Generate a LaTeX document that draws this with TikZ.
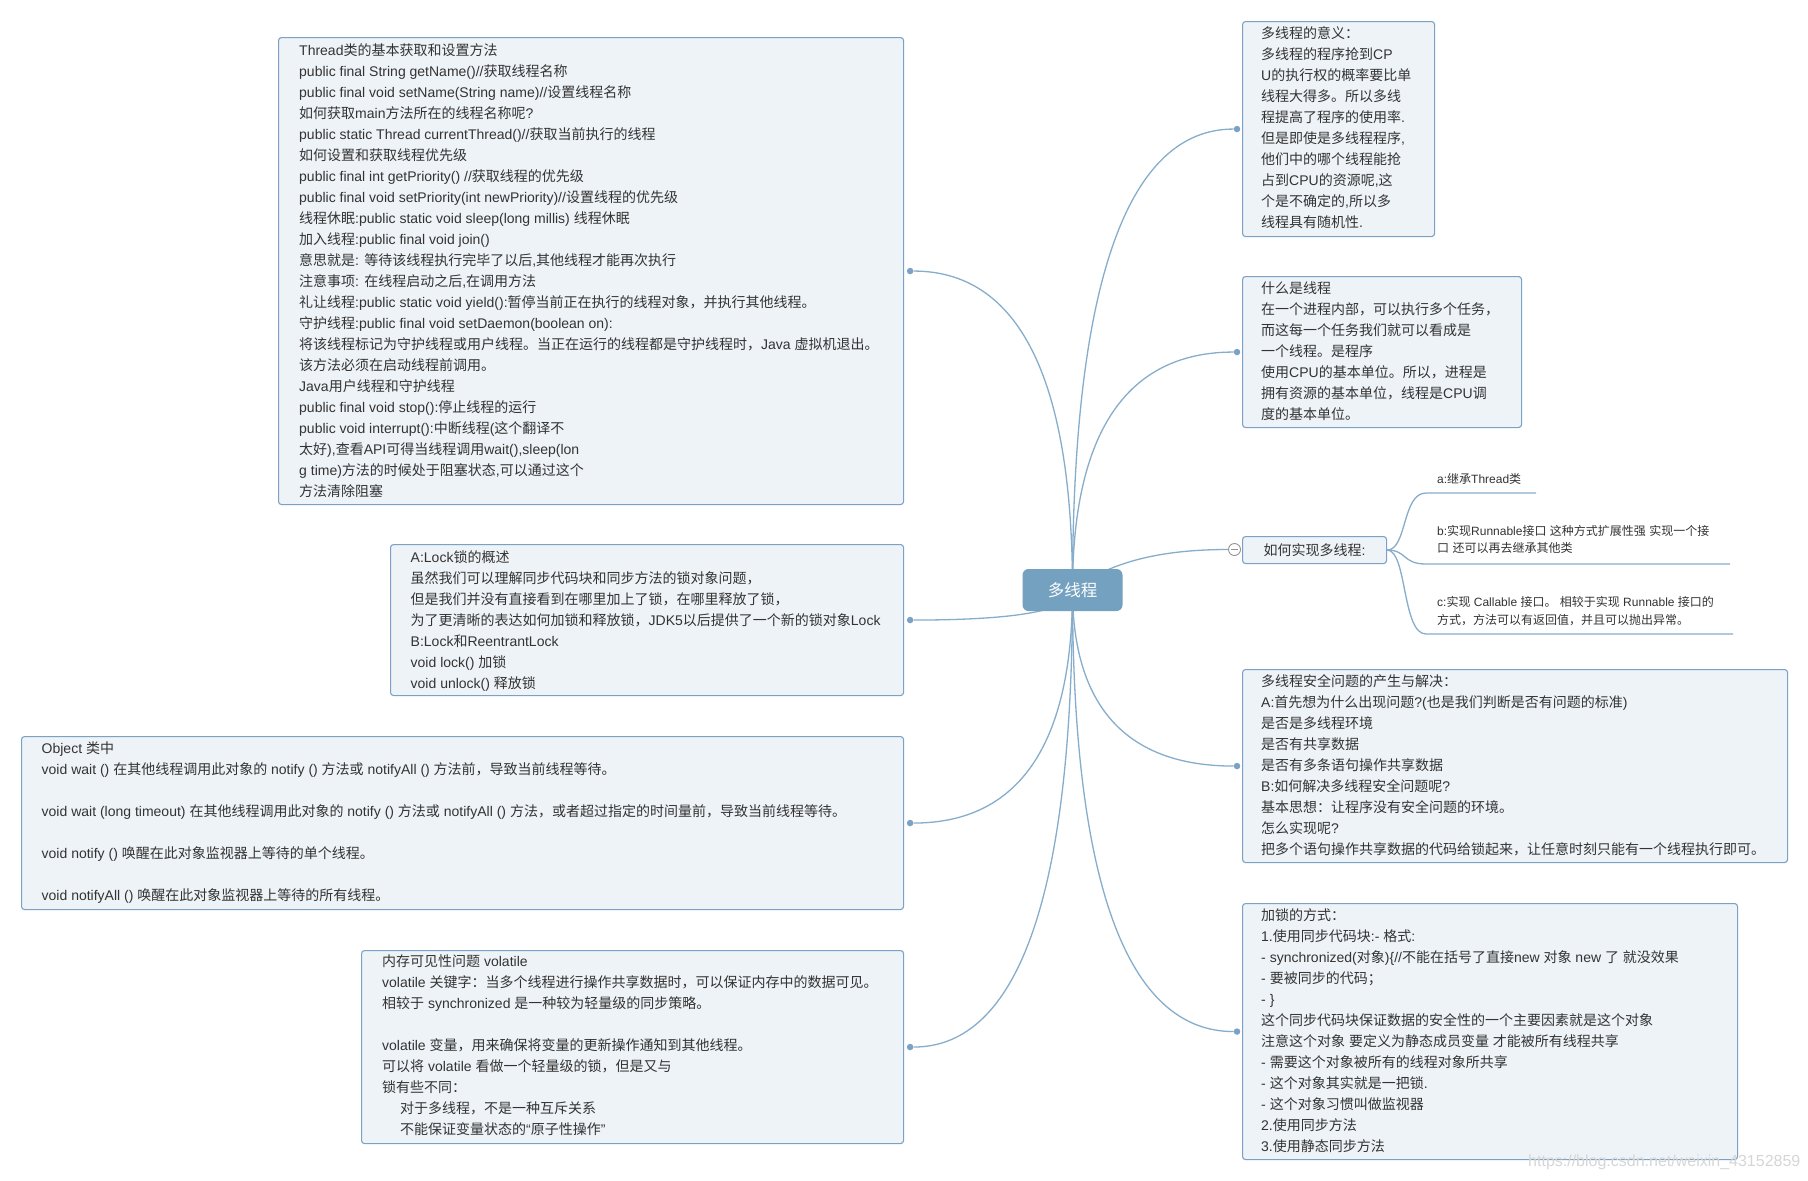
\documentclass[tikz,border=0pt]{standalone}
\usepackage{fontspec}
\setmainfont{Liberation Sans}
\newfontfamily\cjkf{Noto Sans CJK SC}
\usetikzlibrary{calc}
\XeTeXinterchartokenstate=1
\newXeTeXintercharclass\CJKcls
\newcount\mycnt
\def\setcjkrange#1#2{\mycnt=#1\relax
  \loop\XeTeXcharclass\mycnt=\CJKcls
  \ifnum\mycnt<#2\relax\advance\mycnt by 1\repeat}
\setcjkrange{"4E00}{"9FFF}
\setcjkrange{"3000}{"303F}
\setcjkrange{"FF00}{"FFEF}
\XeTeXinterchartoks 0 \CJKcls = {\cjkf}
\XeTeXinterchartoks 4095 \CJKcls = {\cjkf}
\XeTeXinterchartoks \CJKcls 0 = {\rmfamily}
\XeTeXinterchartoks \CJKcls 4095 = {\rmfamily}
\definecolor{boxc}{HTML}{7BA2C4}
\definecolor{boxf}{HTML}{EEF3F7}
\definecolor{linec}{HTML}{86ADCB}
\definecolor{dotc}{HTML}{7BA2C4}
\definecolor{txtc}{HTML}{333333}
\definecolor{ctrc}{HTML}{73A1BF}
\pgfdeclarelayer{bglayer}
\pgfsetlayers{bglayer,main}
\tikzset{
  box/.style={draw=boxc, fill=boxf, line width=1.1pt, rounded corners=3pt, inner sep=0pt, anchor=north west},
  txt/.style={inner sep=0pt, anchor=north west, align=left, text=txtc, font=\fontsize{14}{21}\selectfont, execute at begin node=\rule{0pt}{12.5pt}},
  smalltxt/.style={inner sep=0pt, anchor=north west, align=left, text=txtc, font=\fontsize{12}{17.5}\selectfont, execute at begin node=\rule{0pt}{11pt}},
  conn/.style={draw=linec, line width=1.3pt},
  dot/.style={circle, fill=dotc, inner sep=0pt, minimum size=6.5pt},
}
\newcommand\mmcurve[1]{\draw[conn] (ctr.center) .. controls ($(ctr.center)!2/3!(ctr.center |- #1)$) and ($(#1)!2/3!(ctr.center |- #1)$) .. (#1);}
\begin{document}
\begin{tikzpicture}[x=1pt,y=-1pt]
\begin{pgfonlayer}{bglayer}
\fill[white] (0,0) rectangle (1808,1181);
\end{pgfonlayer}
\path[use as bounding box] (0,0) rectangle (1808,1181);

% central node
\node[fill=ctrc, rounded corners=6pt, minimum width=100pt, minimum height=42pt, inner sep=0pt, text=white, font=\fontsize{16.5}{18}\selectfont] (ctr) at (1072.5,590) {多线程};

% left boxes
\node[box, minimum width=625pt, minimum height=467pt] (b1) at (278,37) {};
\node[txt] (t1) at (299,43) {Thread类的基本获取和设置方法\\
public final String getName()//获取线程名称\\
public final void setName(String name)//设置线程名称\\
如何获取main方法所在的线程名称呢?\\
public static Thread currentThread()//获取当前执行的线程\\
如何设置和获取线程优先级\\
public final int getPriority() //获取线程的优先级\\
public final void setPriority(int newPriority)//设置线程的优先级\\
线程休眠:public static void sleep(long millis) 线程休眠\\
加入线程:public final void join()\\
意思就是: 等待该线程执行完毕了以后,其他线程才能再次执行\\
注意事项: 在线程启动之后,在调用方法\\
礼让线程:public static void yield():暂停当前正在执行的线程对象，并执行其他线程。\\
守护线程:public final void setDaemon(boolean on):\\
将该线程标记为守护线程或用户线程。当正在运行的线程都是守护线程时，Java 虚拟机退出。\\
该方法必须在启动线程前调用。\\
Java用户线程和守护线程\\
public final void stop():停止线程的运行\\
public void interrupt():中断线程(这个翻译不\\
太好),查看API可得当线程调用wait(),sleep(lon\\
g time)方法的时候处于阻塞状态,可以通过这个\\
方法清除阻塞};

\node[box, minimum width=513pt, minimum height=151pt] (b2) at (390,544) {};
\node[txt] (t2) at (410.5,550) {A:Lock锁的概述\\
虽然我们可以理解同步代码块和同步方法的锁对象问题，\\
但是我们并没有直接看到在哪里加上了锁，在哪里释放了锁，\\
为了更清晰的表达如何加锁和释放锁，JDK5以后提供了一个新的锁对象Lock\\
B:Lock和ReentrantLock\\
void lock() 加锁\\
void unlock() 释放锁};

\node[box, minimum width=882pt, minimum height=173pt] (b3) at (21,736) {};
\node[txt] (t3) at (41.5,741.5) {Object 类中\\
void wait () 在其他线程调用此对象的 notify () 方法或 notifyAll () 方法前，导致当前线程等待。\\[21pt]
void wait (long timeout) 在其他线程调用此对象的 notify () 方法或 notifyAll () 方法，或者超过指定的时间量前，导致当前线程等待。\\[21pt]
void notify () 唤醒在此对象监视器上等待的单个线程。\\[21pt]
void notifyAll () 唤醒在此对象监视器上等待的所有线程。};

\node[box, minimum width=542pt, minimum height=193pt] (b4) at (361,950) {};
\node[txt] (t4) at (382,955) {内存可见性问题 volatile\\
volatile 关键字：当多个线程进行操作共享数据时，可以保证内存中的数据可见。\\
相较于 synchronized 是一种较为轻量级的同步策略。\\[21pt]
volatile 变量，用来确保将变量的更新操作通知到其他线程。\\
可以将 volatile 看做一个轻量级的锁，但是又与\\
锁有些不同：\\
\hspace*{18pt}对于多线程，不是一种互斥关系\\
\hspace*{18pt}不能保证变量状态的“原子性操作”};

% right boxes
\node[box, minimum width=192pt, minimum height=215pt] (bA) at (1242,21) {};
\node[txt] (tA) at (1261,26.5) {多线程的意义：\\
多线程的程序抢到CP\\
U的执行权的概率要比单\\
线程大得多。所以多线\\
程提高了程序的使用率.\\
但是即使是多线程程序,\\
他们中的哪个线程能抢\\
占到CPU的资源呢,这\\
个是不确定的,所以多\\
线程具有随机性.};

\node[box, minimum width=279pt, minimum height=151pt] (bB) at (1242,276) {};
\node[txt] (tB) at (1261,281.5) {什么是线程\\
在一个进程内部，可以执行多个任务，\\
而这每一个任务我们就可以看成是\\
一个线程。是程序\\
使用CPU的基本单位。所以，进程是\\
拥有资源的基本单位，线程是CPU调\\
度的基本单位。};

\node[box, minimum width=144pt, minimum height=27pt, text=txtc, font=\fontsize{14}{16}\selectfont] (bC) at (1242,536) {如何实现多线程:};
\node[circle, draw=gray!85, fill=white, line width=0.9pt, minimum size=12pt, inner sep=0pt] (coll) at (1234.5,549.5) {};
\draw[gray!85, line width=1pt] ($(coll.center)+(-3.5,0)$) -- ($(coll.center)+(3.5,0)$);

\node[smalltxt] (ta) at (1437,472.5) {a:继承Thread类};
\node[smalltxt] (tb) at (1437,525) {b:实现Runnable接口 这种方式扩展性强 实现一个接\\口 还可以再去继承其他类};
\node[smalltxt] (tc) at (1437,596.5) {c:实现 Callable 接口。 相较于实现 Runnable 接口的\\方式，方法可以有返回值，并且可以抛出异常。};
\coordinate (uaS) at (1426,493);
\coordinate (uaE) at (1536,493);
\coordinate (ubS) at (1426,564);
\coordinate (ubE) at (1730,564);
\coordinate (ucS) at (1426,634);
\coordinate (ucE) at (1733,634);

\node[box, minimum width=545pt, minimum height=193pt] (bD) at (1242,669) {};
\node[txt] (tD) at (1261,674.5) {多线程安全问题的产生与解决：\\
A:首先想为什么出现问题?(也是我们判断是否有问题的标准)\\
是否是多线程环境\\
是否有共享数据\\
是否有多条语句操作共享数据\\
B:如何解决多线程安全问题呢?\\
基本思想：让程序没有安全问题的环境。\\
怎么实现呢?\\
把多个语句操作共享数据的代码给锁起来，让任意时刻只能有一个线程执行即可。};

\node[box, minimum width=495pt, minimum height=256pt] (bE) at (1242,903) {};
\node[txt] (tE) at (1261,908.5) {加锁的方式：\\
1.使用同步代码块:- 格式:\\
- synchronized(对象)\{//不能在括号了直接new 对象 new 了 就没效果\\
- 要被同步的代码；\\
- \}\\
这个同步代码块保证数据的安全性的一个主要因素就是这个对象\\
注意这个对象 要定义为静态成员变量 才能被所有线程共享\\
- 需要这个对象被所有的线程对象所共享\\
- 这个对象其实就是一把锁.\\
- 这个对象习惯叫做监视器\\
2.使用同步方法\\
3.使用静态同步方法};

% dots
\node[dot] (d1) at ($(b1.east)+(6,0)$) {};
\node[dot] (d2) at ($(b2.east)+(6,0)$) {};
\node[dot] (d3) at ($(b3.east)+(6,0)$) {};
\node[dot] (d4) at ($(b4.east)+(6,0)$) {};
\node[dot] (dA) at ($(bA.west)+(-5,0)$) {};
\node[dot] (dB) at ($(bB.west)+(-5,0)$) {};
\node[dot] (dD) at ($(bD.west)+(-5,0)$) {};
\node[dot] (dE) at ($(bE.west)+(-5,0)$) {};

% watermark
\node[inner sep=0pt, anchor=west, text=black!16, font=\fontsize{16}{18}\selectfont] (wm) at (1528,1162) {https://blog.csdn.net/weixin\_43152859};

\begin{pgfonlayer}{bglayer}
\mmcurve{d1}
\mmcurve{d2}
\mmcurve{d3}
\mmcurve{d4}
\mmcurve{dA}
\mmcurve{dB}
\mmcurve{dD}
\mmcurve{dE}
\draw[conn] (ctr.center) .. controls (1110,562) and (1160,549.5) .. (coll.west);
\draw[conn] (bC.east) .. controls ($(bC.east)+(20,0)$) and ($(uaS)+(-24,0)$) .. (uaS) -- (uaE);
\draw[conn] (bC.east) .. controls ($(bC.east)+(20,0)$) and ($(ubS)+(-24,0)$) .. (ubS) -- (ubE);
\draw[conn] (bC.east) .. controls ($(bC.east)+(20,0)$) and ($(ucS)+(-24,0)$) .. (ucS) -- (ucE);
\end{pgfonlayer}
\end{tikzpicture}
\end{document}
